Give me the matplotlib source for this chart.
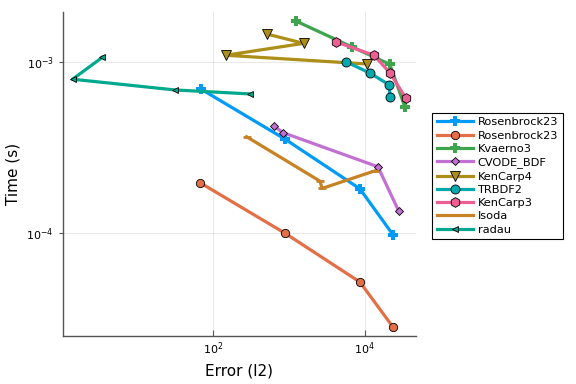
import matplotlib
matplotlib.use("Agg")
import matplotlib.pyplot as plt
import numpy as np

# work-precision data (error, time in s)
ros23_a_err = [68.8, 891, 8630, 23700]
ros23_a_time = [6.98e-4, 3.55e-4, 1.82e-4, 9.77e-5]
ros23_b_err = [66.8, 891, 8630, 23700]
ros23_b_time = [1.98e-4, 1.0e-4, 5.19e-5, 2.82e-5]
kvaerno3_err = [1225, 6760, 21400, 33700]
kvaerno3_time = [1.745e-3, 1.23e-3, 9.73e-4, 5.5e-4]
cvode_err = [632, 832, 14900, 27900]
cvode_time = [4.24e-4, 3.88e-4, 2.45e-4, 1.355e-4]
kencarp4_err = [511, 1560, 147, 10800]
kencarp4_time = [1.463e-3, 1.29e-3, 1.099e-3, 9.77e-4]
trbdf2_err = [5630, 11800, 20900, 21600]
trbdf2_time = [1.008e-3, 8.63e-4, 7.39e-4, 6.26e-4]
kencarp3_err = [4200, 13200, 21400, 34500]
kencarp3_time = [1.315e-3, 1.099e-3, 8.69e-4, 6.21e-4]
lsoda_err = [276, 2560, 2740, 13600]
lsoda_time = [3.67e-4, 2.02e-4, 1.83e-4, 2.32e-4]
radau_err = [3.47, 1.40, 31.2, 305]
radau_time = [1.07e-3, 7.96e-4, 6.89e-4, 6.53e-4]

names = ["Rosenbrock23", "Rosenbrock23", "Kvaerno3", "CVODE_BDF", "KenCarp4",
         "TRBDF2", "KenCarp3", "lsoda", "radau"]
palette = ["#009AFA", "#E36F47", "#3EA44E", "#C271D2", "#AC8E18",
           "#00A9AD", "#ED5E93", "#C68225", "#00A98D"]

series = [
    (ros23_a_err, ros23_a_time, "P", 7),
    (ros23_b_err, ros23_b_time, "o", 6),
    (kvaerno3_err, kvaerno3_time, "P", 7),
    (cvode_err, cvode_time, "D", 4.5),
    (kencarp4_err, kencarp4_time, "v", 7),
    (trbdf2_err, trbdf2_time, "o", 6.5),
    (kencarp3_err, kencarp3_time, "h", 7),
    (lsoda_err, lsoda_time, "_", 6),
    (radau_err, radau_time, "<", 4.5),
]

fig = plt.figure(figsize=(5.76, 3.84), dpi=100)
ax = fig.add_axes([0.109, 0.125, 0.613, 0.844])

for (x, y, m, ms), name, c in zip(series, names, palette):
    if m == "P":
        ax.plot(x, y, color=c, lw=2.3, marker=m, ms=ms, mec=c, mew=0, label=name)
    elif m == "_":
        ax.plot(x, y, color=c, lw=2.3, marker=m, ms=ms, mec=c, mew=2, label=name)
    else:
        ax.plot(x, y, color=c, lw=2.3, marker=m, ms=ms, mfc=c, mec="black",
                mew=0.6, label=name)

ax.set_xscale("log")
ax.set_yscale("log")
ax.set_xlim(1.04, 47200)
ax.set_ylim(2.51e-5, 1.97e-3)
ax.set_xticks([1e2, 1e4])
ax.set_yticks([1e-4, 1e-3])
ax.minorticks_off()
ax.grid(True, color="black", alpha=0.1, lw=0.6)

for s in ["top", "right"]:
    ax.spines[s].set_visible(False)
for s in ["left", "bottom"]:
    ax.spines[s].set_color("#555555")
    ax.spines[s].set_linewidth(1.0)
ax.tick_params(axis="x", direction="in", length=4, labelsize=8, color="#555555")
ax.tick_params(axis="y", direction="out", length=3, labelsize=8, color="#555555")

ax.set_xlabel("Error (l2)", fontsize=11)
ax.set_ylabel("Time (s)", fontsize=11)

leg = ax.legend(loc="upper left", bbox_to_anchor=(0.75, 0.706),
                bbox_transform=fig.transFigure, borderaxespad=0, fontsize=8.2,
                fancybox=False, edgecolor="black", framealpha=1,
                handlelength=3.2, labelspacing=0.29, borderpad=0.4,
                handletextpad=0.4)
leg.get_frame().set_linewidth(0.8)

fig.savefig("out.png", dpi=100)
